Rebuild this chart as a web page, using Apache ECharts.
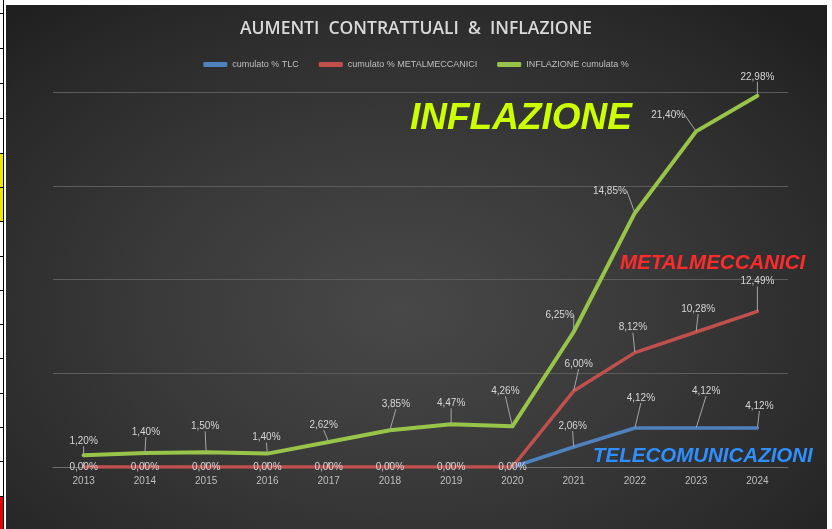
<!DOCTYPE html>
<html>
<head>
<meta charset="utf-8">
<script src="https://cdn.jsdelivr.net/npm/echarts@6/dist/echarts.min.js"></script>
<style>
  html, body { margin: 0; padding: 0; background: #ffffff; }
  #wrap { position: relative; width: 832px; height: 529px; overflow: hidden; background: #ffffff; }
  #bg { position: absolute; left: 6px; top: 5px; width: 821px; height: 524px;
        background: radial-gradient(ellipse 70% 75% at 48% 58%, #484848 0%, #393939 45%, #282828 85%, #202020 100%); }
  #strip { position: absolute; left: 0; top: 0; width: 6px; height: 529px; }
  #chart { position: absolute; left: 0; top: 0; width: 832px; height: 529px; }
</style>
</head>
<body>
<div id="wrap">
  <div id="bg"></div>
  <div id="strip"></div>
  <div id="chart"></div>
</div>
<script>
// ---------------- data ----------------
const years = ['2013','2014','2015','2016','2017','2018','2019','2020','2021','2022','2023','2024'];
const seriesNames = ['cumulato % TLC', 'cumulato % METALMECCANICI', 'INFLAZIONE cumulata %'];

const tlcValues  = [null, null, null, null, null, null, null, 0, 2.13, 4.16, 4.16, 4.16];
const metValues  = [0, 0, 0, 0, 0, 0, 0, 0, 8.1, 12.2, 14.4, 16.6];
const inflValues = [1.25, 1.49, 1.57, 1.43, 2.67, 3.92, 4.56, 4.34, 14.4, 27.1, 35.8, 39.6];

// data label texts
const tlcLabels  = ['', '', '', '', '', '', '', '', '2,06%', '4,12%', '4,12%', '4,12%'];
const metLabels  = ['0,00%','0,00%','0,00%','0,00%','0,00%','0,00%','0,00%','0,00%','6,00%','8,12%','10,28%','12,49%'];
const inflLabels = ['1,20%','1,40%','1,50%','1,40%','2,62%','3,85%','4,47%','4,26%','6,25%','14,85%','21,40%','22,98%'];

const titleText = 'AUMENTI  CONTRATTUALI  &  INFLAZIONE';
const yMin = 0, yMax = 40, yStep = 10;

// ---------------- layout (label offsets relative to points) ----------------
const tlcOffsets  = [[0,0],[0,0],[0,0],[0,0],[0,0],[0,0],[0,0],[0,0],[-1,-21],[6,-30],[10,-37],[2,-22]];
const metOffsets  = [[0,0],[0,0],[0,0],[0,0],[0,0],[0,0],[0,0],[0,0],[5,-27],[-2,-25],[2,-23],[0,-30]];
const inflOffsets = [[0,-14],[1,-21],[-1,-26],[-1,-16],[-5,-17],[6,-26],[0,-21],[-7,-35],[-14,-17],[-25,-22],[-28,-16],[0,-19]];

// spreadsheet strip on the left (decoration)
(function(){
  const strip = document.getElementById('strip');
  let html = '<div style="position:absolute;left:0;top:0;width:4px;height:529px;background:#fff"></div>';
  html += '<div style="position:absolute;left:0;top:153px;width:3px;height:68px;background:#f2e600"></div>';
  html += '<div style="position:absolute;left:0;top:496px;width:3px;height:33px;background:#e60000"></div>';
  html += '<div style="position:absolute;left:3px;top:0;width:1px;height:529px;background:#000"></div>';
  const rows = [13,48,83,118,153,187,221,256,290,324,358,393,427,461,496];
  rows.forEach(y => { html += '<div style="position:absolute;left:0;top:'+y+'px;width:4px;height:1px;background:#000"></div>'; });
  strip.innerHTML = html;
})();

const labelFont = "'Liberation Sans', Arial, sans-serif";

function makeSeries(name, values, labels, offsets, color, width, z) {
  return {
    name: name,
    type: 'line',
    data: values,
    z: z,
    symbol: 'circle',
    symbolSize: 1,
    showSymbol: true,
    connectNulls: false,
    itemStyle: { color: color },
    lineStyle: { color: color, width: width, cap: 'round', join: 'round' },
    label: {
      show: true,
      position: 'inside',
      color: '#d6d6d6',
      fontSize: 10,
      fontFamily: labelFont,
      formatter: p => labels[p.dataIndex]
    },
    labelLayout: p => ({ dx: offsets[p.dataIndex][0], dy: offsets[p.dataIndex][1] }),
    labelLine: { show: true, lineStyle: { color: '#a6a6a6', width: 1 } },
    emphasis: { disabled: true },
    animation: false
  };
}

const chart = echarts.init(document.getElementById('chart'), null, { renderer: 'canvas' });
chart.setOption({
  backgroundColor: 'transparent',
  animation: false,
  title: {
    text: titleText,
    left: 'center',
    top: 15,
    textStyle: { color: '#d9d9d9', fontSize: 17.5, fontWeight: 600, fontFamily: "'Open Sans', 'DejaVu Sans', sans-serif" }
  },
  legend: {
    top: 55,
    left: 'center',
    itemWidth: 24,
    itemHeight: 5,
    itemGap: 20,
    icon: 'roundRect',
    data: seriesNames,
    textStyle: { color: '#bfbfbf', fontSize: 9, fontFamily: labelFont }
  },
  grid: { left: 53, right: 44, top: 92, bottom: 62 },
  xAxis: {
    type: 'category',
    data: years,
    boundaryGap: true,
    axisLine: { show: true, lineStyle: { color: '#6e6e6e', width: 1 } },
    axisTick: { show: false },
    axisLabel: { color: '#bfbfbf', fontSize: 10, fontFamily: labelFont, margin: 9 },
    splitLine: { show: false }
  },
  yAxis: {
    type: 'value',
    min: yMin, max: yMax, interval: yStep,
    axisLine: { show: false },
    axisTick: { show: false },
    axisLabel: { show: false },
    splitLine: { show: true, lineStyle: { color: '#5c5c5c', width: 1 } }
  },
  graphic: [
    { type: 'text', left: 410, top: 100, z: 10,
      style: { text: 'INFLAZIONE', fill: '#ccff00', font: "italic bold 37px 'Liberation Sans', Arial, sans-serif" } },
    { type: 'text', left: 620, top: 253, z: 10,
      style: { text: 'METALMECCANICI', fill: '#ff2b2b', font: "italic bold 20.5px 'Liberation Sans', Arial, sans-serif" } },
    { type: 'text', left: 593, top: 446, z: 10,
      style: { text: 'TELECOMUNICAZIONI', fill: '#2f8fff', font: "italic bold 20.5px 'Liberation Sans', Arial, sans-serif" } }
  ],
  series: [
    makeSeries(seriesNames[0], tlcValues, tlcLabels, tlcOffsets, '#4f81bd', 3.5, 3),
    makeSeries(seriesNames[1], metValues, metLabels, metOffsets, '#c0504d', 3.5, 4),
    makeSeries(seriesNames[2], inflValues, inflLabels, inflOffsets, '#98c449', 4, 5)
  ]
});
</script>
</body>
</html>
